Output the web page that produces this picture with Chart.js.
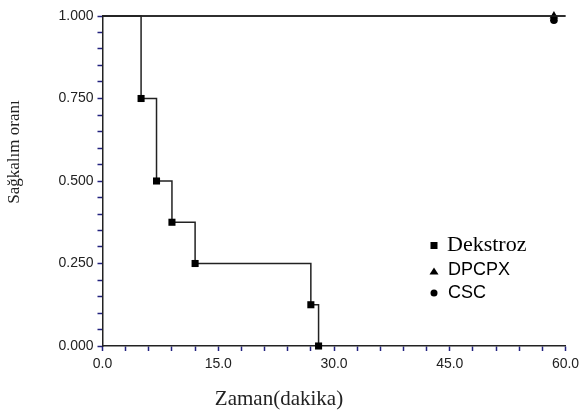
<!DOCTYPE HTML>
<html>
  <head>
    <meta charset="UTF-8"/>
    <title>Sağkalım oranı</title>
    <script src="https://cdn.jsdelivr.net/npm/chart.js@4/dist/chart.umd.min.js"></script>
    <style>
     html, body { margin: 0; padding: 0; background: #fff; }
     #wrap { width: 579px; height: 413px; }
    </style>
  </head>
  <body>
    <div id="wrap"><canvas id="chart-sagkalim" width="579" height="413"></canvas></div>

    <script>
     // Dekstroz: Kaplan-Meier basamaklari
     var dekstrozTimes = [0, 5, 7, 9, 12, 27, 28];
     var dekstrozSurv  = [1, 0.75, 0.5, 0.375, 0.25, 0.125, 0];

     // DPCPX ve CSC: hic olay yok, 58.5 dk'da sansurlu
     var dpcpxTimes = [0, 58.5, 60];
     var dpcpxSurv  = [1, 1, 1];
     var cscTimes   = [0, 60];
     var cscSurv    = [1, 1];
     var cscCensorTimes = [58.5];
     var cscCensorSurv  = [0.987];

     var seriesNames = ["Dekstroz", "DPCPX", "CSC"];
     var xTickLabels = ["0.0", "15.0", "30.0", "45.0", "60.0"];
     var yTickLabels = ["0.000", "0.250", "0.500", "0.750", "1.000"];

     var LINE = "#222";
     var TICK = "#22227f";

     function pts(xs, ys){
         return xs.map((x, i) => ({x: x, y: ys[i]}));
     }

     function isMajor(v, step){
         var r = v / step;
         return Math.abs(r - Math.round(r)) < 1e-6;
     }

     var drawExtras = {
         id: "drawExtras",
         afterDraw: function(chart){
             var ctx = chart.ctx;
             var a = chart.chartArea;

             // eksen basliklari
             ctx.save();
             ctx.fillStyle = "#222";
             ctx.textAlign = "center";
             ctx.textBaseline = "middle";
             ctx.font = '21px "Liberation Serif"';
             ctx.fillText("Zaman(dakika)", 279, 399);
             ctx.translate(15, 152);
             ctx.rotate(-Math.PI / 2);
             ctx.font = '17px "Liberation Serif"';
             ctx.fillText("Sağkalım oranı", 0, 0);
             ctx.restore();

             // lejant
             ctx.save();
             var lx = a.left + 331.5, ly = a.top + 229.5;
             ctx.fillStyle = "#000";
             ctx.textBaseline = "middle";
             ctx.textAlign = "left";
             ctx.fillRect(lx - 3.5, ly - 3.5, 7, 7);
             ctx.font = '22px "Liberation Serif"';
             ctx.fillText(seriesNames[0], lx + 13, ly);

             ctx.beginPath();
             ctx.moveTo(lx, ly + 22);
             ctx.lineTo(lx + 4.5, ly + 29);
             ctx.lineTo(lx - 4.5, ly + 29);
             ctx.closePath();
             ctx.fill();
             ctx.font = '18px "Liberation Sans"';
             ctx.fillText(seriesNames[1], lx + 14, ly + 25);

             ctx.beginPath();
             ctx.arc(lx, ly + 47.5, 3.5, 0, Math.PI * 2);
             ctx.fill();
             ctx.fillText(seriesNames[2], lx + 14, ly + 47.5);
             ctx.restore();
         }
     };

     var lineBase = {
         borderColor: LINE,
         borderWidth: 1.5,
         pointBackgroundColor: "#000",
         pointBorderWidth: 0,
         fill: false,
         clip: false,
         tension: 0
     };

     new Chart("chart-sagkalim", {
         type: "line",
         data: {
             datasets: [
                 Object.assign({}, lineBase, {
                     label: seriesNames[2],
                     data: pts(cscTimes, cscSurv),
                     pointRadius: 0
                 }),
                 Object.assign({}, lineBase, {
                     label: seriesNames[2] + " sansur",
                     data: pts(cscCensorTimes, cscCensorSurv),
                     showLine: false,
                     pointStyle: "circle",
                     pointRadius: 3.8
                 }),
                 Object.assign({}, lineBase, {
                     label: seriesNames[1],
                     data: pts(dpcpxTimes, dpcpxSurv),
                     pointStyle: "triangle",
                     pointRadius: dpcpxTimes.map((t, i) => (i === 1 ? 5 : 0))
                 }),
                 Object.assign({}, lineBase, {
                     label: seriesNames[0],
                     data: pts(dekstrozTimes, dekstrozSurv),
                     stepped: "before",
                     pointStyle: "rect",
                     pointRadius: dekstrozTimes.map((t, i) => (i === 0 ? 0 : 5))
                 })
             ]
         },
         options: {
             responsive: false,
             animation: false,
             layout: { padding: { top: 16, right: 13.5, left: 0, bottom: 0 } },
             plugins: {
                 legend: { display: false },
                 tooltip: { enabled: false }
             },
             scales: {
                 x: {
                     type: "linear",
                     min: 0,
                     max: 60,
                     afterFit: function(s){ s.height = 67; s.paddingLeft = 0; s.paddingRight = 0; },
                     border: { color: LINE, width: 1.5 },
                     grid: { drawOnChartArea: false, tickLength: 5, tickColor: TICK, tickWidth: 1.5 },
                     ticks: {
                         stepSize: 3,
                         maxTicksLimit: 100,
                         autoSkip: false,
                         maxRotation: 0,
                         padding: 5,
                         color: "#222",
                         font: { family: "Liberation Sans", size: 14 },
                         callback: function(v){
                             return isMajor(v, 15) ? xTickLabels[Math.round(v / 15)] : "";
                         }
                     }
                 },
                 y: {
                     min: 0,
                     max: 1,
                     afterFit: function(s){ s.width = 102.5; s.paddingTop = 0; s.paddingBottom = 0; },
                     border: { color: LINE, width: 1.5 },
                     grid: { drawOnChartArea: false, tickLength: 5, tickColor: TICK, tickWidth: 1.5 },
                     ticks: {
                         stepSize: 0.05,
                         maxTicksLimit: 100,
                         autoSkip: false,
                         padding: 4,
                         color: "#222",
                         font: { family: "Liberation Sans", size: 14 },
                         callback: function(v){
                             return isMajor(v, 0.25) ? yTickLabels[Math.round(v / 0.25)] : "";
                         }
                     }
                 }
             }
         },
         plugins: [drawExtras]
     });
    </script>
  </body>
</html>
